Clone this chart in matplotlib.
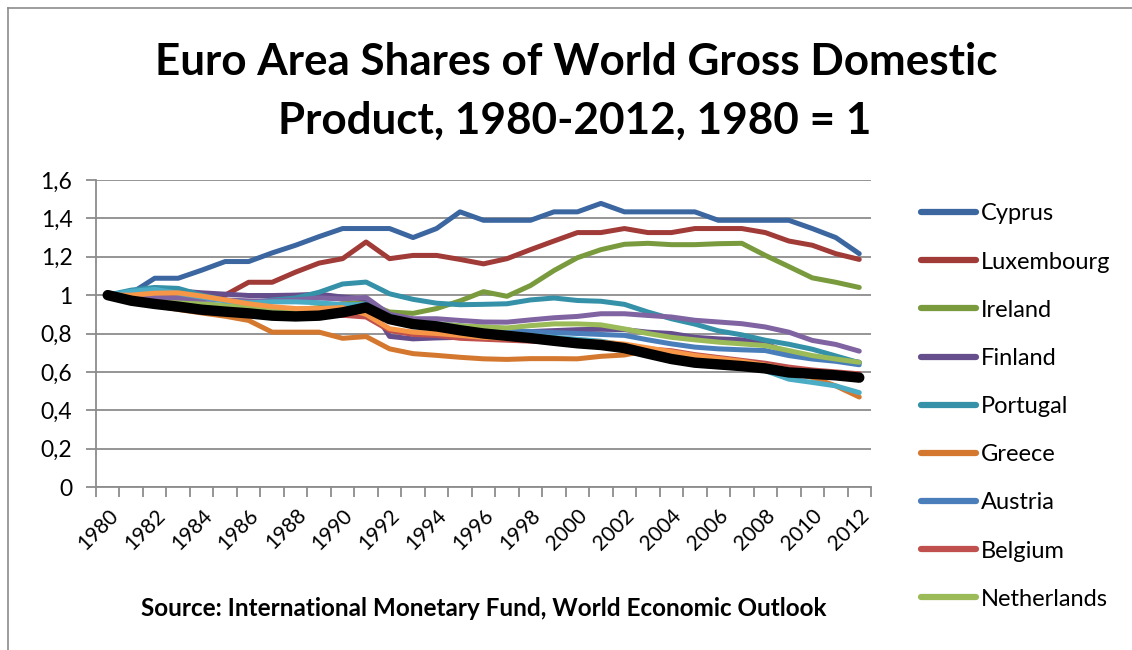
import matplotlib
matplotlib.use("Agg")
import matplotlib.pyplot as plt
from matplotlib.lines import Line2D

years = list(range(1980, 2013))

cyprus = [1.0, 1.01, 1.088, 1.088, 1.13, 1.175, 1.175, 1.22, 1.26, 1.305, 1.347, 1.347,
          1.347, 1.30, 1.347, 1.434, 1.39, 1.39, 1.39, 1.434, 1.434, 1.478, 1.434, 1.434,
          1.434, 1.434, 1.39, 1.39, 1.39, 1.39, 1.347, 1.30, 1.216]
luxembourg = [1.0, 0.99, 0.975, 1.01, 0.985, 1.0, 1.067, 1.067, 1.12, 1.167, 1.19, 1.277,
              1.19, 1.207, 1.207, 1.186, 1.163, 1.19, 1.237, 1.282, 1.326, 1.326, 1.347, 1.326,
              1.326, 1.347, 1.347, 1.347, 1.326, 1.282, 1.26, 1.216, 1.186]
ireland = [1.0, 0.98, 0.97, 0.96, 0.95, 0.94, 0.935, 0.93, 0.925, 0.935, 0.955, 0.96,
           0.912, 0.905, 0.93, 0.97, 1.018, 0.994, 1.05, 1.128, 1.195, 1.237, 1.265, 1.27,
           1.263, 1.263, 1.268, 1.27, 1.207, 1.149, 1.09, 1.067, 1.04]
finland = [1.0, 1.01, 1.02, 1.022, 1.012, 1.005, 0.998, 0.998, 1.0, 1.005, 0.99, 0.98,
           0.785, 0.772, 0.777, 0.78, 0.79, 0.8, 0.81, 0.815, 0.82, 0.822, 0.82, 0.807,
           0.8, 0.78, 0.772, 0.767, 0.746, 0.70, 0.676, 0.667, 0.65]
portugal = [1.0, 1.026, 1.04, 1.035, 1.0, 0.974, 0.96, 0.974, 0.985, 1.015, 1.058, 1.068,
            1.007, 0.978, 0.958, 0.95, 0.952, 0.955, 0.975, 0.985, 0.972, 0.968, 0.952, 0.912,
            0.877, 0.849, 0.814, 0.793, 0.765, 0.744, 0.718, 0.683, 0.648]
greece = [1.0, 0.974, 0.947, 0.925, 0.907, 0.89, 0.868, 0.807, 0.807, 0.807, 0.775, 0.784,
          0.72, 0.695, 0.686, 0.676, 0.668, 0.665, 0.669, 0.669, 0.668, 0.681, 0.688, 0.712,
          0.70, 0.685, 0.667, 0.65, 0.623, 0.597, 0.571, 0.527, 0.469]
austria = [1.0, 0.985, 0.975, 0.965, 0.955, 0.945, 0.935, 0.93, 0.925, 0.93, 0.94, 0.955,
           0.89, 0.86, 0.85, 0.84, 0.825, 0.815, 0.81, 0.805, 0.8, 0.795, 0.79, 0.767,
           0.746, 0.729, 0.72, 0.715, 0.711, 0.685, 0.667, 0.655, 0.637]
belgium = [1.0, 0.98, 0.965, 0.95, 0.935, 0.925, 0.915, 0.905, 0.9, 0.9, 0.895, 0.886,
           0.816, 0.795, 0.79, 0.775, 0.77, 0.765, 0.76, 0.755, 0.75, 0.745, 0.735, 0.72,
           0.71, 0.69, 0.675, 0.66, 0.645, 0.625, 0.61, 0.6, 0.59]
netherlands = [1.0, 0.985, 0.975, 0.965, 0.955, 0.945, 0.935, 0.925, 0.92, 0.925, 0.935, 0.945,
               0.88, 0.855, 0.85, 0.84, 0.835, 0.829, 0.841, 0.85, 0.85, 0.845, 0.824, 0.80,
               0.78, 0.767, 0.755, 0.746, 0.737, 0.711, 0.685, 0.667, 0.65]
series10 = [1.0, 1.0, 0.99, 0.985, 0.98, 0.975, 0.97, 0.97, 0.975, 0.985, 0.98, 0.988,
            0.90, 0.877, 0.877, 0.868, 0.86, 0.859, 0.871, 0.882, 0.889, 0.903, 0.903, 0.894,
            0.886, 0.869, 0.86, 0.851, 0.834, 0.807, 0.764, 0.743, 0.708]
series11 = [1.0, 1.02, 1.03, 1.01, 0.99, 0.97, 0.96, 0.965, 0.965, 0.96, 0.95, 0.95,
            0.89, 0.86, 0.85, 0.83, 0.81, 0.80, 0.79, 0.78, 0.77, 0.76, 0.74, 0.71,
            0.69, 0.67, 0.65, 0.632, 0.606, 0.562, 0.545, 0.527, 0.492]
series12 = [1.0, 1.0, 1.01, 1.012, 0.995, 0.975, 0.955, 0.94, 0.93, 0.93, 0.935, 0.9,
            0.825, 0.807, 0.8, 0.79, 0.78, 0.775, 0.77, 0.765, 0.76, 0.755, 0.745, 0.725,
            0.705, 0.685, 0.67, 0.655, 0.635, 0.61, 0.59, 0.575, 0.56]
euro_area = [1.0, 0.971, 0.954, 0.94, 0.924, 0.914, 0.905, 0.893, 0.889, 0.893, 0.91, 0.936,
             0.875, 0.849, 0.837, 0.817, 0.8, 0.788, 0.776, 0.762, 0.749, 0.74, 0.724, 0.695,
             0.667, 0.648, 0.639, 0.63, 0.618, 0.597, 0.59, 0.582, 0.57]

legend_names = ["Cyprus", "Luxembourg", "Ireland", "Finland", "Portugal",
                "Greece", "Austria", "Belgium", "Netherlands"]
legend_series = [cyprus, luxembourg, ireland, finland, portugal,
                 greece, austria, belgium, netherlands]
legend_colors = ["#3B66A0", "#A03B38", "#7A9A3E", "#664E8C", "#3591A8",
                 "#D4782F", "#4A7EBB", "#C0504D", "#9BBB59"]
extra_series = [series10, series11, series12]
extra_colors = ["#8064A2", "#4BACC6", "#F79646"]

y_ticks = [0, 0.2, 0.4, 0.6, 0.8, 1.0, 1.2, 1.4, 1.6]
y_tick_labels = ["0", "0,2", "0,4", "0,6", "0,8", "1", "1,2", "1,4", "1,6"]
x_label_years = list(range(1980, 2013, 2))

FONT = "Lato"
W, H = 1132, 650
fig = plt.figure(figsize=(W / 100, H / 100), dpi=100)
fig.patch.set_facecolor("white")

# chart frame (top and left edges visible)
fig.add_artist(Line2D([8 / W, 1.0], [1 - 8 / H, 1 - 8 / H], transform=fig.transFigure,
                      color="#8C8C8C", lw=1.2))
fig.add_artist(Line2D([8 / W, 8 / W], [0, 1 - 8 / H], transform=fig.transFigure,
                      color="#8C8C8C", lw=1.2))

ax = fig.add_axes([96 / W, 1 - 487 / H, (871 - 96) / W, (487 - 180) / H])

lw = 3.6
for vals, col in zip(legend_series, legend_colors):
    ax.plot(years, vals, color=col, lw=lw, solid_capstyle="round",
            solid_joinstyle="round", zorder=3)
for vals, col in zip(extra_series, extra_colors):
    ax.plot(years, vals, color=col, lw=lw, solid_capstyle="round",
            solid_joinstyle="round", zorder=3)
ax.plot(years, euro_area, color="black", lw=7.5, solid_capstyle="round",
        solid_joinstyle="round", zorder=4)

ax.set_xlim(1979.5, 2012.5)
ax.set_ylim(0, 1.6)
ax.set_yticks(y_ticks)
ax.set_yticklabels(y_tick_labels, fontsize=16.5, family=FONT)
ax.yaxis.grid(True, color="#8C8C8C", lw=1.3)
ax.set_axisbelow(True)

ax.set_xticks([y - 0.5 for y in years] + [2012.5])
ax.set_xticklabels([])
ax.set_xticks(x_label_years, minor=True)
ax.set_xticklabels([str(y) for y in x_label_years], minor=True, rotation=45,
                   ha="right", va="top", rotation_mode="anchor", fontsize=15,
                   family=FONT)
ax.tick_params(axis="x", which="major", length=7, width=1.3, color="#8C8C8C",
               direction="out")
ax.tick_params(axis="x", which="minor", length=0, pad=13)
ax.tick_params(axis="y", length=7, width=1.3, color="#8C8C8C", pad=10)

for s in ["top", "right"]:
    ax.spines[s].set_visible(False)
for s in ["left", "bottom"]:
    ax.spines[s].set_color("#8C8C8C")
    ax.spines[s].set_linewidth(1.3)

fig.text(576 / W, 1 - 62 / H, "Euro Area Shares of World Gross Domestic",
         ha="center", va="center", fontsize=31.7, fontweight="bold", family=FONT)
fig.text(575 / W, 1 - 121 / H, "Product, 1980-2012, 1980 = 1",
         ha="center", va="center", fontsize=31.7, fontweight="bold", family=FONT)
fig.text(484 / W, 1 - 608 / H,
         "Source: International Monetary Fund, World Economic Outlook",
         ha="center", va="center", fontsize=17.5, fontweight="bold", family=FONT)

handles = [Line2D([0], [0], color=c, lw=4.5, solid_capstyle="round")
           for c in legend_colors]
fig.legend(handles, legend_names, loc="upper left",
           bbox_to_anchor=(912 / W, 1 - 194 / H), frameon=False,
           prop={"family": FONT, "size": 17}, handlelength=2.3,
           handletextpad=0.2, labelspacing=1.15, borderaxespad=0)

fig.savefig("out.png", dpi=100)
